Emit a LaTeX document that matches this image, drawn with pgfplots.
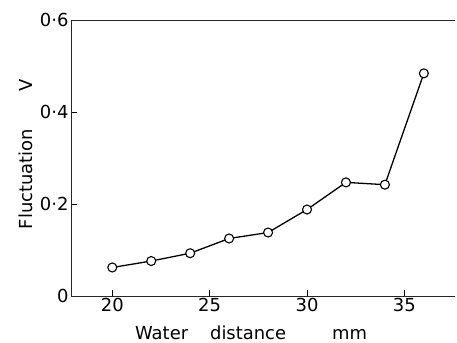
\documentclass[border=0pt]{standalone}
\usepackage{pgfplots}
\pgfplotsset{compat=1.18}
\usepackage{fontspec}
\setmainfont{DejaVu Sans}
\begin{document}
\begin{tikzpicture}
\useasboundingbox (-71bp,-47bp) rectangle (386bp,296bp);
\begin{axis}[
  scale only axis, width=384bp, height=276bp,
  xmin=17.88, xmax=37.6, ymin=0, ymax=0.6,
  axis x line*=bottom, axis y line*=left,
  xtick={20,25,30,35}, xticklabels={20,25,30,35},
  ytick={0,0.2,0.4,0.6}, yticklabels={0,0·2,0·4,0·6},
  tick align=inside, major tick length=6bp,
  tick style={black, line width=0.8bp},
  axis line style={line width=1bp, black!85},
  font=\fontsize{18}{21}\selectfont,
  xticklabel style={yshift=1bp},
  yticklabel style={xshift=1bp},
  xlabel={Water\hspace{22bp}distance\hspace{46bp}mm},
  xlabel style={at={(axis description cs:0.469,0)}, anchor=base, yshift=-43bp},
  ylabel={Fluctuation\hspace{37bp}V},
  ylabel style={at={(axis description cs:-0.099,0.513)}, anchor=base},
  clip=false,
]
\draw[line width=1bp, black!85] (rel axis cs:0,1) -- (rel axis cs:1,1);
\addplot[black, line width=1.3bp, mark=*, mark size=4.5bp,
  mark options={fill=white, draw=black, line width=1.1bp}]
  coordinates {(20,0.062) (22,0.076) (24,0.093) (26,0.125) (28,0.138)
               (30,0.188) (32,0.247) (34,0.242) (36,0.484)};
\end{axis}
\end{tikzpicture}
\end{document}
